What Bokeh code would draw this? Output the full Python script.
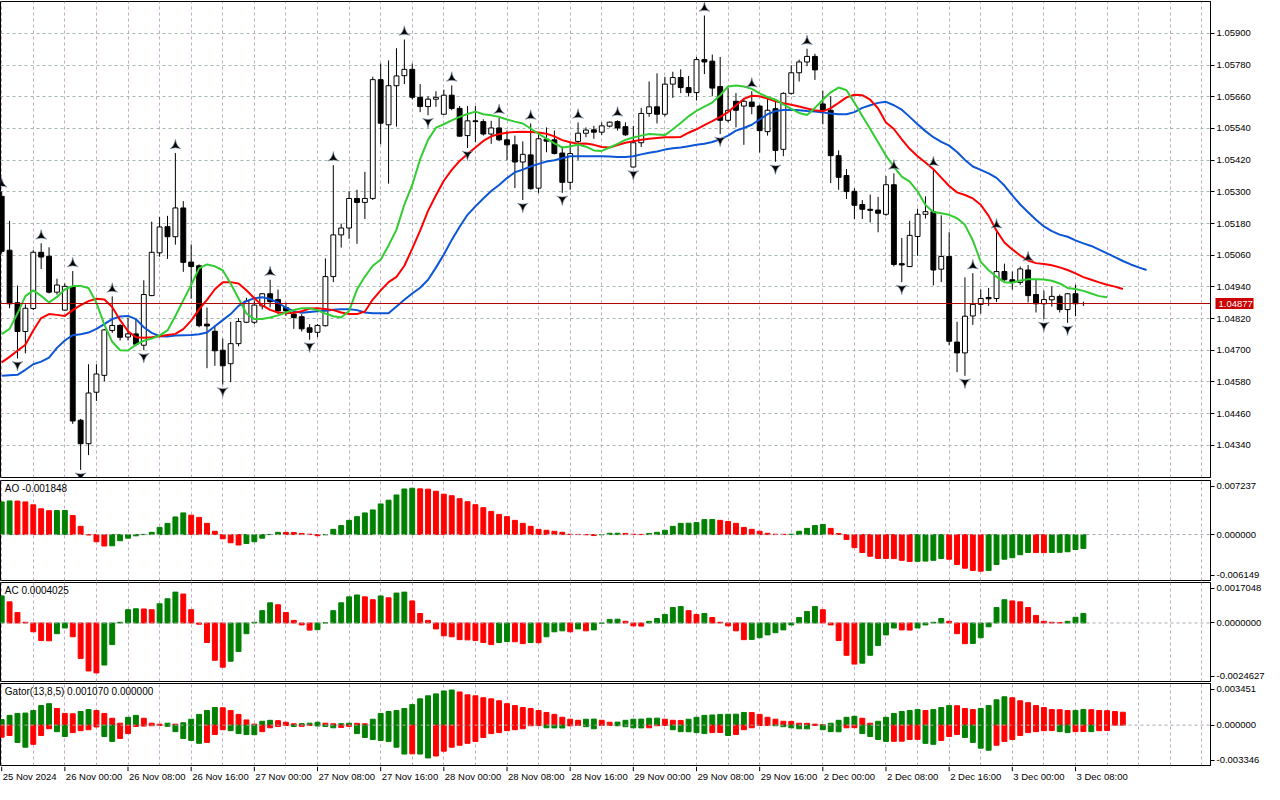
import numpy as np
from bokeh.plotting import figure
from bokeh.layouts import column
from bokeh.models import Range1d, FixedTicker, PrintfTickFormatter, Span, Label, Grid, LinearAxis
from bokeh.embed import file_html
from bokeh.resources import INLINE
from bokeh.core.properties import value

# ---------------- data (EURUSD H1, 25 Nov 16:00 .. 3 Dec 09:00) ----------------
opens = [1.05283, 1.05079, 1.04880, 1.04771, 1.04858, 1.05071, 1.05056, 1.04920, 1.04852, 1.04941,
         1.04435, 1.04346, 1.04541, 1.04605, 1.04775, 1.04794, 1.04750, 1.04762, 1.04719, 1.04907,
         1.05069, 1.05168, 1.05130, 1.05239, 1.05034, 1.05020, 1.04799, 1.04772, 1.04700, 1.04649,
         1.04725, 1.04806, 1.04806, 1.04868, 1.04914, 1.04892, 1.04862, 1.04837, 1.04827, 1.04785,
         1.04768, 1.04793, 1.04979, 1.05137, 1.05163, 1.05275, 1.05260, 1.05275, 1.05725, 1.05554,
         1.05702, 1.05740, 1.05764, 1.05658, 1.05623, 1.05651, 1.05594, 1.05666, 1.05616, 1.05513,
         1.05569, 1.05566, 1.05519, 1.05542, 1.05497, 1.05478, 1.05413, 1.05440, 1.05314, 1.05499,
         1.05497, 1.05447, 1.05336, 1.05491, 1.05522, 1.05535, 1.05526, 1.05549, 1.05566, 1.05547,
         1.05394, 1.05486, 1.05597, 1.05622, 1.05594, 1.05708, 1.05733, 1.05695, 1.05676, 1.05801,
         1.05795, 1.05699, 1.05571, 1.05643, 1.05625, 1.05640, 1.05625, 1.05528, 1.05615, 1.05461,
         1.05673, 1.05751, 1.05792, 1.05813, 1.05633, 1.05609, 1.05437, 1.05362, 1.05302, 1.05252,
         1.05234, 1.05231, 1.05215, 1.05327, 1.05028, 1.05017, 1.05131, 1.05215, 1.05225, 1.05007,
         1.05055, 1.04731, 1.04690, 1.04830, 1.04874, 1.04900, 1.04896, 1.04998, 1.04967, 1.04957,
         1.05004, 1.04911, 1.04876, 1.04891, 1.04904, 1.04854, 1.04914, 1.04877]
highs = [1.05302, 1.05190, 1.04945, 1.04874, 1.05079, 1.05105, 1.05090, 1.04971, 1.04953, 1.05000,
         1.04440, 1.04647, 1.04647, 1.04781, 1.04904, 1.04799, 1.04824, 1.04821, 1.04965, 1.05187,
         1.05205, 1.05209, 1.05447, 1.05265, 1.05101, 1.05025, 1.04862, 1.04793, 1.04744, 1.04807,
         1.04822, 1.04899, 1.04889, 1.04916, 1.04967, 1.04930, 1.04880, 1.04849, 1.04837, 1.04799,
         1.04799, 1.05048, 1.05401, 1.05180, 1.05302, 1.05308, 1.05376, 1.05736, 1.05786, 1.05798,
         1.05844, 1.05877, 1.05786, 1.05708, 1.05662, 1.05681, 1.05687, 1.05703, 1.05625, 1.05625,
         1.05625, 1.05575, 1.05569, 1.05581, 1.05532, 1.05513, 1.05491, 1.05559, 1.05519, 1.05544,
         1.05532, 1.05472, 1.05488, 1.05563, 1.05544, 1.05550, 1.05563, 1.05566, 1.05571, 1.05563,
         1.05550, 1.05618, 1.05718, 1.05749, 1.05736, 1.05755, 1.05764, 1.05739, 1.05811, 1.05968,
         1.05820, 1.05811, 1.05693, 1.05674, 1.05656, 1.05681, 1.05630, 1.05658, 1.05650, 1.05677,
         1.05780, 1.05801, 1.05842, 1.05823, 1.05683, 1.05662, 1.05457, 1.05386, 1.05314, 1.05269,
         1.05290, 1.05281, 1.05360, 1.05370, 1.05125, 1.05190, 1.05236, 1.05283, 1.05383, 1.05211,
         1.05147, 1.04808, 1.04976, 1.04992, 1.04930, 1.04936, 1.05147, 1.05028, 1.04998, 1.05017,
         1.05023, 1.04967, 1.04926, 1.04941, 1.04911, 1.04917, 1.04948, 1.04884]
lows = [1.05066, 1.04859, 1.04669, 1.04688, 1.04852, 1.05008, 1.04915, 1.04911, 1.04849, 1.04421,
        1.04247, 1.04303, 1.04508, 1.04582, 1.04766, 1.04737, 1.04737, 1.04715, 1.04700, 1.04905,
        1.05054, 1.05046, 1.05100, 1.04997, 1.04895, 1.04787, 1.04632, 1.04641, 1.04570, 1.04579,
        1.04715, 1.04803, 1.04799, 1.04855, 1.04862, 1.04837, 1.04830, 1.04781, 1.04771, 1.04740,
        1.04750, 1.04790, 1.04958, 1.05089, 1.05122, 1.05103, 1.05197, 1.05269, 1.05480, 1.05331,
        1.05547, 1.05708, 1.05650, 1.05602, 1.05590, 1.05622, 1.05592, 1.05609, 1.05509, 1.05466,
        1.05488, 1.05513, 1.05482, 1.05492, 1.05420, 1.05314, 1.05269, 1.05308, 1.05296, 1.05450,
        1.05442, 1.05296, 1.05308, 1.05420, 1.05507, 1.05501, 1.05515, 1.05544, 1.05532, 1.05512,
        1.05392, 1.05470, 1.05584, 1.05559, 1.05586, 1.05656, 1.05674, 1.05661, 1.05646, 1.05746,
        1.05662, 1.05519, 1.05563, 1.05544, 1.05478, 1.05594, 1.05449, 1.05513, 1.05414, 1.05435,
        1.05668, 1.05718, 1.05776, 1.05724, 1.05556, 1.05333, 1.05308, 1.05273, 1.05197, 1.05197,
        1.05184, 1.05147, 1.05209, 1.05017, 1.04958, 1.05015, 1.05058, 1.05199, 1.04946, 1.04958,
        1.04719, 1.04617, 1.04603, 1.04796, 1.04839, 1.04868, 1.04883, 1.04963, 1.04930, 1.04948,
        1.04881, 1.04843, 1.04818, 1.04865, 1.04843, 1.04804, 1.04829, 1.04868]
closes = [1.05075, 1.04876, 1.04771, 1.04859, 1.05071, 1.05053, 1.04920, 1.04947, 1.04942, 1.04432,
          1.04346, 1.04538, 1.04610, 1.04777, 1.04794, 1.04749, 1.04762, 1.04723, 1.04911, 1.05071,
          1.05167, 1.05130, 1.05239, 1.05033, 1.05017, 1.04793, 1.04792, 1.04698, 1.04641, 1.04725,
          1.04809, 1.04886, 1.04871, 1.04914, 1.04884, 1.04849, 1.04849, 1.04824, 1.04781, 1.04768,
          1.04794, 1.04979, 1.05137, 1.05163, 1.05275, 1.05260, 1.05275, 1.05725, 1.05560, 1.05702,
          1.05739, 1.05764, 1.05658, 1.05623, 1.05651, 1.05658, 1.05666, 1.05616, 1.05511, 1.05569,
          1.05566, 1.05519, 1.05542, 1.05497, 1.05478, 1.05413, 1.05442, 1.05312, 1.05501, 1.05492,
          1.05445, 1.05336, 1.05445, 1.05522, 1.05534, 1.05526, 1.05550, 1.05564, 1.05542, 1.05516,
          1.05486, 1.05597, 1.05622, 1.05594, 1.05708, 1.05733, 1.05695, 1.05676, 1.05801, 1.05792,
          1.05693, 1.05571, 1.05609, 1.05609, 1.05643, 1.05623, 1.05532, 1.05609, 1.05457, 1.05673,
          1.05751, 1.05792, 1.05813, 1.05762, 1.05609, 1.05437, 1.05355, 1.05301, 1.05249, 1.05234,
          1.05230, 1.05219, 1.05327, 1.05025, 1.05023, 1.05135, 1.05215, 1.05225, 1.05004, 1.05055,
          1.04734, 1.04690, 1.04829, 1.04874, 1.04896, 1.04895, 1.04998, 1.04967, 1.04957, 1.05008,
          1.04907, 1.04876, 1.04892, 1.04904, 1.04854, 1.04914, 1.04876, 1.04877]

# Alligator (13,8,5) lines as drawn (already shifted forward by 8, 5, 3 bars)
jaw = [1.04603, 1.04605, 1.04607, 1.04626, 1.04647, 1.04657, 1.04672, 1.04709, 1.04737, 1.04757,
       1.04761, 1.04767, 1.04781, 1.04799, 1.04818, 1.04828, 1.04830, 1.04818, 1.04787, 1.04766,
       1.04753, 1.04752, 1.04756, 1.04757, 1.04758, 1.04761, 1.04767, 1.04791, 1.04814, 1.04837,
       1.04868, 1.04886, 1.04897, 1.04901, 1.04894, 1.04880, 1.04861, 1.04848, 1.04842, 1.04845,
       1.04848, 1.04850, 1.04853, 1.04855, 1.04855, 1.04852, 1.04843, 1.04840, 1.04840, 1.04840,
       1.04866, 1.04891, 1.04915, 1.04937, 1.04967, 1.05013, 1.05063, 1.05118, 1.05168, 1.05213,
       1.05245, 1.05275, 1.05303, 1.05326, 1.05352, 1.05374, 1.05384, 1.05396, 1.05406, 1.05415,
       1.05420, 1.05427, 1.05435, 1.05435, 1.05435, 1.05435, 1.05435, 1.05434, 1.05432, 1.05432,
       1.05435, 1.05442, 1.05448, 1.05453, 1.05460, 1.05465, 1.05468, 1.05473, 1.05478, 1.05482,
       1.05489, 1.05499, 1.05513, 1.05532, 1.05542, 1.05554, 1.05574, 1.05594, 1.05606, 1.05610,
       1.05611, 1.05609, 1.05606, 1.05604, 1.05601, 1.05597, 1.05594, 1.05594, 1.05602, 1.05618,
       1.05628, 1.05637, 1.05641, 1.05628, 1.05611, 1.05584, 1.05556, 1.05530, 1.05507, 1.05489,
       1.05475, 1.05451, 1.05421, 1.05396, 1.05383, 1.05370, 1.05353, 1.05324, 1.05287, 1.05252,
       1.05223, 1.05194, 1.05169, 1.05151, 1.05138, 1.05130, 1.05116, 1.05105, 1.05095, 1.05081,
       1.05067, 1.05053, 1.05038, 1.05025, 1.05014, 1.05004]
teeth = [1.04654, 1.04675, 1.04698, 1.04721, 1.04775, 1.04822, 1.04837, 1.04834, 1.04830, 1.04852,
         1.04871, 1.04886, 1.04895, 1.04892, 1.04864, 1.04814, 1.04772, 1.04749, 1.04747, 1.04749,
         1.04753, 1.04758, 1.04762, 1.04780, 1.04812, 1.04855, 1.04891, 1.04931, 1.04958, 1.04958,
         1.04953, 1.04927, 1.04897, 1.04870, 1.04853, 1.04843, 1.04840, 1.04842, 1.04848, 1.04858,
         1.04859, 1.04856, 1.04852, 1.04843, 1.04837, 1.04837, 1.04847, 1.04892, 1.04927, 1.04958,
         1.04978, 1.05020, 1.05085, 1.05153, 1.05228, 1.05287, 1.05342, 1.05383, 1.05417, 1.05443,
         1.05468, 1.05493, 1.05510, 1.05519, 1.05524, 1.05527, 1.05528, 1.05527, 1.05525, 1.05520,
         1.05510, 1.05496, 1.05488, 1.05482, 1.05483, 1.05478, 1.05470, 1.05468, 1.05477, 1.05486,
         1.05492, 1.05497, 1.05501, 1.05504, 1.05507, 1.05507, 1.05508, 1.05524, 1.05537, 1.05553,
         1.05568, 1.05584, 1.05602, 1.05628, 1.05652, 1.05664, 1.05662, 1.05653, 1.05643, 1.05636,
         1.05630, 1.05623, 1.05616, 1.05609, 1.05605, 1.05617, 1.05637, 1.05658, 1.05668, 1.05666,
         1.05649, 1.05616, 1.05563, 1.05538, 1.05499, 1.05463, 1.05435, 1.05411, 1.05386, 1.05354,
         1.05322, 1.05298, 1.05288, 1.05275, 1.05251, 1.05209, 1.05153, 1.05108, 1.05082, 1.05059,
         1.05040, 1.05030, 1.05027, 1.05022, 1.05014, 1.05004, 1.04991, 1.04977, 1.04967, 1.04957,
         1.04948, 1.04941, 1.04932]
lips = [1.04761, 1.04781, 1.04839, 1.04905, 1.04927, 1.04906, 1.04881, 1.04902, 1.04930, 1.04943,
        1.04943, 1.04936, 1.04880, 1.04797, 1.04732, 1.04700, 1.04699, 1.04721, 1.04736, 1.04744,
        1.04756, 1.04775, 1.04830, 1.04889, 1.04947, 1.05010, 1.05025, 1.05018, 1.05003, 1.04953,
        1.04896, 1.04839, 1.04818, 1.04818, 1.04824, 1.04832, 1.04843, 1.04853, 1.04859, 1.04859,
        1.04852, 1.04839, 1.04829, 1.04824, 1.04849, 1.04930, 1.04979, 1.05020, 1.05043, 1.05097,
        1.05157, 1.05252, 1.05326, 1.05424, 1.05497, 1.05543, 1.05556, 1.05571, 1.05584, 1.05595,
        1.05604, 1.05594, 1.05590, 1.05584, 1.05574, 1.05566, 1.05559, 1.05540, 1.05520, 1.05502,
        1.05484, 1.05468, 1.05472, 1.05479, 1.05471, 1.05457, 1.05455, 1.05468, 1.05482, 1.05497,
        1.05506, 1.05513, 1.05519, 1.05517, 1.05515, 1.05537, 1.05561, 1.05586, 1.05607, 1.05623,
        1.05638, 1.05666, 1.05699, 1.05703, 1.05699, 1.05690, 1.05673, 1.05659, 1.05649, 1.05631,
        1.05614, 1.05599, 1.05591, 1.05618, 1.05649, 1.05677, 1.05695, 1.05685, 1.05638, 1.05587,
        1.05538, 1.05488, 1.05437, 1.05395, 1.05358, 1.05339, 1.05302, 1.05250, 1.05224, 1.05219,
        1.05213, 1.05200, 1.05175, 1.05116, 1.05035, 1.05003, 1.04978, 1.04958, 1.04956, 1.04964,
        1.04969, 1.04969, 1.04968, 1.04963, 1.04953, 1.04936, 1.04932, 1.04925, 1.04915, 1.04905,
        1.04901]

# Fractal bars
fractal_up = [0, 5, 9, 14, 22, 34, 42, 51, 57, 63, 67, 73, 78, 89, 95, 102, 113, 118, 123, 126, 130]
fractal_down = [2, 10, 18, 28, 39, 54, 59, 66, 71, 80, 91, 98, 114, 122, 132, 135]

# Awesome Oscillator
ao = [0.00437, 0.00450, 0.00448, 0.00437, 0.00398, 0.00345, 0.00320, 0.00321, 0.00322, 0.00254,
      0.00110, -0.00005, -0.00096, -0.00153, -0.00150, -0.00083, -0.00048, -0.00017, 0.00002, 0.00030,
      0.00096, 0.00150, 0.00236, 0.00290, 0.00260, 0.00230, 0.00150, 0.00044, -0.00057, -0.00110,
      -0.00140, -0.00120, -0.00096, -0.00048, 0.00002, 0.00030, 0.00029, 0.00028, 0.00015, 0.00005,
      -0.00015, -0.00003, 0.00070, 0.00120, 0.00190, 0.00240, 0.00290, 0.00330, 0.00410, 0.00460,
      0.00530, 0.00610, 0.00620, 0.00612, 0.00608, 0.00580, 0.00540, 0.00520, 0.00480, 0.00440,
      0.00400, 0.00360, 0.00310, 0.00270, 0.00240, 0.00190, 0.00150, 0.00110, 0.00070, 0.00057,
      0.00044, 0.00030, 0.00004, 0.00002, -0.00002, -0.00013, -0.00002, 0.00017, 0.00018, 0.00015,
      0.00004, 0.00002, 0.00015, 0.00030, 0.00057, 0.00110, 0.00150, 0.00152, 0.00160, 0.00200,
      0.00202, 0.00190, 0.00175, 0.00150, 0.00096, 0.00070, 0.00044, 0.00017, 0.00004, 0.00003,
      0.00005, 0.00044, 0.00083, 0.00120, 0.00135, 0.00083, 0.00013, -0.00066, -0.00175, -0.00240,
      -0.00290, -0.00320, -0.00321, -0.00322, -0.00345, -0.00360, -0.00358, -0.00355, -0.00345, -0.00320,
      -0.00330, -0.00400, -0.00450, -0.00480, -0.00490, -0.00480, -0.00400, -0.00330, -0.00310, -0.00270,
      -0.00240, -0.00241, -0.00242, -0.00240, -0.00238, -0.00230, -0.00200, -0.001848]
ao_before = 0.00420

# Accelerator Oscillator
ac = [0.00114, 0.00089, 0.00044, 0.00003, -0.00037, -0.00074, -0.00075, -0.00045, -0.00021, -0.00058,
      -0.00149, -0.00202, -0.00210, -0.00177, -0.00091, 0.00003, 0.00056, 0.00060, 0.00059, 0.00056,
      0.00081, 0.00102, 0.00130, 0.00122, 0.00056, -0.00005, -0.00082, -0.00157, -0.00186, -0.00161,
      -0.00120, -0.00045, 0.00003, 0.00052, 0.00085, 0.00077, 0.00044, 0.00011, -0.00008, -0.00030,
      -0.00028, 0.00001, 0.00052, 0.00085, 0.00110, 0.00118, 0.00110, 0.00098, 0.00114, 0.00106,
      0.00126, 0.00130, 0.00093, 0.00040, 0.00011, -0.00025, -0.00054, -0.00058, -0.00070, -0.00071,
      -0.00074, -0.00082, -0.00091, -0.00082, -0.00078, -0.00079, -0.00087, -0.00082, -0.00083, -0.00058,
      -0.00037, -0.00033, -0.00037, -0.00025, -0.00033, -0.00029, -0.00001, 0.00015, 0.00016, 0.00007,
      -0.00012, -0.00013, 0.00007, 0.00019, 0.00036, 0.00065, 0.00069, 0.00052, 0.00036, 0.00040,
      0.00023, 0.00003, -0.00012, -0.00033, -0.00070, -0.00069, -0.00062, -0.00050, -0.00041, -0.00029,
      -0.00008, 0.00023, 0.00048, 0.00069, 0.00056, -0.00008, -0.00074, -0.00136, -0.00173, -0.00169,
      -0.00136, -0.00095, -0.00050, -0.00021, -0.00029, -0.00030, -0.00021, -0.00008, 0.00003, 0.00019,
      0.00007, -0.00045, -0.00087, -0.00086, -0.00062, -0.00016, 0.00065, 0.00098, 0.00093, 0.00089,
      0.00065, 0.00032, 0.00007, 0.00003, 0.00002, 0.00007, 0.00024, 0.0004025]
ac_before = 0.00090

# Gator oscillator (upper = |jaw-teeth|, lower = |teeth-lips|)
gator_up = [0.00046, 0.00081, 0.00097, 0.00100, 0.00121, 0.00162, 0.00178, 0.00138, 0.00097, 0.00094,
            0.00113, 0.00129, 0.00121, 0.00097, 0.00057, 0.00016, 0.00065, 0.00081, 0.00057, 0.00016,
            0.00008, 0.00016, 0.00008, 0.00020, 0.00049, 0.00089, 0.00121, 0.00146, 0.00144, 0.00121,
            0.00089, 0.00043, 0.00008, 0.00032, 0.00040, 0.00037, 0.00024, 0.00011, 0.00012, 0.00016,
            0.00024, 0.00016, 0.00011, 0.00012, 0.00016, 0.00015, 0.00011, 0.00049, 0.00097, 0.00113,
            0.00121, 0.00138, 0.00170, 0.00218, 0.00243, 0.00259, 0.00283, 0.00291, 0.00275, 0.00251,
            0.00243, 0.00227, 0.00218, 0.00202, 0.00178, 0.00162, 0.00146, 0.00138, 0.00121, 0.00105,
            0.00089, 0.00065, 0.00049, 0.00040, 0.00049, 0.00050, 0.00040, 0.00024, 0.00025, 0.00040,
            0.00049, 0.00050, 0.00057, 0.00058, 0.00049, 0.00040, 0.00039, 0.00049, 0.00065, 0.00081,
            0.00084, 0.00089, 0.00090, 0.00091, 0.00105, 0.00104, 0.00089, 0.00065, 0.00049, 0.00032,
            0.00031, 0.00016, 0.00015, 0.00008, 0.00003, 0.00016, 0.00040, 0.00065, 0.00073, 0.00057,
            0.00016, 0.00032, 0.00065, 0.00097, 0.00113, 0.00121, 0.00129, 0.00121, 0.00129, 0.00146,
            0.00162, 0.00161, 0.00138, 0.00129, 0.00138, 0.00162, 0.00210, 0.00235, 0.00227, 0.00202,
            0.00186, 0.00162, 0.00146, 0.00129, 0.00128, 0.00121, 0.00122, 0.00129, 0.00128, 0.00121,
            0.00120, 0.00113, 0.00107]
gator_low = [0.00100, 0.00086, 0.00143, 0.00183, 0.00159, 0.00086, 0.00030, 0.00054, 0.00094, 0.00062,
             0.00046, 0.00038, 0.00015, 0.00094, 0.00135, 0.00111, 0.00070, 0.00011, 0.00008, 0.00005,
             0.00003, 0.00010, 0.00054, 0.00111, 0.00127, 0.00151, 0.00143, 0.00078, 0.00038, 0.00046,
             0.00070, 0.00078, 0.00079, 0.00054, 0.00022, 0.00011, 0.00003, 0.00011, 0.00010, 0.00001,
             0.00007, 0.00011, 0.00022, 0.00019, 0.00010, 0.00070, 0.00102, 0.00119, 0.00127, 0.00135,
             0.00183, 0.00240, 0.00238, 0.00240, 0.00272, 0.00256, 0.00216, 0.00183, 0.00167, 0.00151,
             0.00135, 0.00102, 0.00070, 0.00062, 0.00046, 0.00038, 0.00030, 0.00005, 0.00004, 0.00022,
             0.00023, 0.00024, 0.00006, 0.00003, 0.00013, 0.00030, 0.00003, 0.00001, 0.00005, 0.00013,
             0.00022, 0.00023, 0.00022, 0.00005, 0.00003, 0.00038, 0.00054, 0.00055, 0.00062, 0.00070,
             0.00062, 0.00061, 0.00086, 0.00078, 0.00038, 0.00022, 0.00003, 0.00002, 0.00005, 0.00013,
             0.00022, 0.00030, 0.00031, 0.00003, 0.00038, 0.00054, 0.00055, 0.00022, 0.00021, 0.00070,
             0.00094, 0.00119, 0.00135, 0.00134, 0.00133, 0.00119, 0.00118, 0.00151, 0.00159, 0.00127,
             0.00094, 0.00078, 0.00102, 0.00143, 0.00191, 0.00208, 0.00167, 0.00135, 0.00119, 0.00086,
             0.00062, 0.00054, 0.00046, 0.00045, 0.00054, 0.00062, 0.00054, 0.00053, 0.00054, 0.00046,
             0.00045]
gator_up_before = 0.00040
gator_low_before = 0.00110

price_ticks = [1.04340, 1.04460, 1.04580, 1.04700, 1.04820, 1.04940, 1.05060,
               1.05180, 1.05300, 1.05420, 1.05540, 1.05660, 1.05780, 1.05900]
last_price = 1.04877

time_tick_bars = [0, 8, 16, 24, 32, 40, 48, 56, 64, 72, 80, 88, 96, 104, 112, 120, 128, 136]
time_tick_labels = ["25 Nov 2024", "26 Nov 00:00", "26 Nov 08:00", "26 Nov 16:00", "27 Nov 00:00",
                    "27 Nov 08:00", "27 Nov 16:00", "28 Nov 00:00", "28 Nov 08:00", "28 Nov 16:00",
                    "29 Nov 00:00", "29 Nov 08:00", "29 Nov 16:00", "2 Dec 00:00", "2 Dec 08:00",
                    "2 Dec 16:00", "3 Dec 00:00", "3 Dec 08:00"]

ao_range = (-0.006149, 0.007237)
ac_range = (-0.0024627, 0.0017048)
gator_range = (-0.003346, 0.003451)

# ---------------- styling ----------------
FONT = "Liberation Sans"
GREEN = "#008000"
RED = "#ff0000"
VGRID = "#c6a9c6"
HGRID = "#a6b8ae"
FW = 1210
X0, X1 = -0.15, 153.1
xr = Range1d(X0, X1)
vgrid_ticks = list(range(0, 154, 4))


def colors_by_change(vals, before):
    v = np.asarray(vals, dtype=float)
    d = np.diff(np.concatenate([[before], v]))
    return [GREEN if x > 0 else RED for x in d]


def make_fig(fh, y0, y1, top, bottom, right=0):
    p = figure(frame_width=FW, frame_height=fh, x_range=xr, y_range=Range1d(y0, y1),
               output_backend="svg", toolbar_location=None,
               x_axis_location=None, y_axis_location="right",
               min_border_left=0, min_border_right=right,
               min_border_top=top, min_border_bottom=bottom)
    p.grid.visible = False
    p.outline_line_color = "black"
    p.outline_line_width = 1
    p.outline_line_alpha = 1.0
    p.background_fill_color = "white"
    p.border_fill_color = "white"
    p.add_layout(Grid(dimension=0, ticker=FixedTicker(ticks=vgrid_ticks),
                      grid_line_color=VGRID, grid_line_dash="3 3", grid_line_width=1))
    ax = p.yaxis[0]
    ax.axis_line_color = "black"
    ax.major_tick_out = 4
    ax.major_tick_in = 0
    ax.minor_tick_out = 0
    ax.minor_tick_in = 0
    ax.major_tick_line_color = "black"
    ax.major_label_standoff = 2
    ax.major_label_text_font = FONT
    ax.major_label_text_font_size = "9.5px"
    ax.major_label_text_color = "black"
    return p


# ---------------- main price panel ----------------
o = np.asarray(opens); h = np.asarray(highs); l = np.asarray(lows); c = np.asarray(closes)
idx = np.arange(len(o))
bull = c >= o
bear = ~bull

main = make_fig(476, 1.04218, 1.06021, top=1, bottom=2, right=0)
main.add_layout(Grid(dimension=1, ticker=FixedTicker(ticks=price_ticks),
                     grid_line_color=HGRID, grid_line_dash="3 3", grid_line_width=1))
main.yaxis[0].ticker = FixedTicker(ticks=price_ticks)
main.yaxis[0].formatter = PrintfTickFormatter(format="%.5f")

main.add_layout(Span(location=last_price, dimension="width", line_color="#b00000", line_width=1))

main.segment(x0=idx, y0=l, x1=idx, y1=h, line_color="black", line_width=1)
main.vbar(x=idx[bull], bottom=o[bull], top=c[bull], width=0.62,
          fill_color="white", line_color="black", line_width=1)
main.vbar(x=idx[bear], bottom=c[bear], top=o[bear], width=0.62,
          fill_color="black", line_color="black", line_width=1)

main.line(np.arange(len(jaw)), jaw, line_color="#0b55d6", line_width=2)
main.line(np.arange(len(teeth)), teeth, line_color="#ff0000", line_width=2)
main.line(np.arange(len(lips)), lips, line_color="#32cd32", line_width=2)

fu = np.asarray(fractal_up); fd = np.asarray(fractal_down)
main.scatter(fu, h[fu] + 0.00028, marker="triangle_pin", size=11,
             fill_color="black", line_color="#8090a8", line_width=0.6)
main.scatter(fd, l[fd] - 0.00024, marker="triangle_pin", size=11, angle=np.pi,
             fill_color="black", line_color="#8090a8", line_width=0.6)

# current-price tag on the price scale: a second right axis with one tick,
# its (thick, inward) tick mark forms the red box and its label sits on it
tag_axis = LinearAxis(ticker=FixedTicker(ticks=[last_price]),
                      formatter=PrintfTickFormatter(format="%.5f"),
                      axis_line_color=None,
                      major_tick_in=38, major_tick_out=0,
                      major_tick_line_color="#cc0000", major_tick_line_width=11,
                      major_tick_line_cap="butt",
                      minor_tick_in=0, minor_tick_out=0,
                      major_label_standoff=-35,
                      major_label_text_color="white", major_label_text_font=FONT,
                      major_label_text_font_size="9.5px")
main.add_layout(tag_axis, "right")


# ---------------- indicator panels ----------------
def indicator(fh, rng, labels, title, top, bottom):
    lo, hi = rng
    p = make_fig(fh, lo, hi, top=top, bottom=bottom)
    inset = 5.5 * (hi - lo) / fh
    t_top = hi - inset
    t_bot = lo + inset
    ax = p.yaxis[0]
    ax.ticker = FixedTicker(ticks=[t_bot, 0.0, t_top])
    ax.major_label_overrides = {t_bot: labels[0], 0.0: labels[1], t_top: labels[2]}
    p.add_layout(Span(location=0.0, dimension="width", line_color="#a8a8b4",
                      line_dash="3 3", line_width=1))
    p.add_layout(Label(x=0.4, y=hi, y_offset=-2, text=title, text_font=FONT,
                       text_font_size="10px", text_baseline="top", text_align="left",
                       text_color="black"))
    return p


aop = indicator(100, ao_range, ["-0.006149", "0.000000", "0.007237"], "AO -0.001848", 1, 1)
aop.vbar(x=np.arange(len(ao)), top=ao, bottom=0, width=0.62,
         color=colors_by_change(ao, ao_before))

acp = indicator(99, ac_range, ["-0.0024627", "0.0000000", "0.0017048"], "AC 0.0004025", 1, 1)
acp.vbar(x=np.arange(len(ac)), top=ac, bottom=0, width=0.62,
         color=colors_by_change(ac, ac_before))

gp = indicator(82, gator_range, ["-0.003346", "0.000000", "0.003451"],
               "Gator(13,8,5) 0.001070 0.000000", 1, 1)
gp.vbar(x=np.arange(len(gator_up)), top=gator_up, bottom=0, width=0.62,
        color=colors_by_change(gator_up, gator_up_before))
gp.vbar(x=np.arange(len(gator_low)), top=0, bottom=-np.asarray(gator_low), width=0.62,
        color=colors_by_change(gator_low, gator_low_before))

# ---------------- time scale strip ----------------
ts = figure(frame_width=FW, frame_height=18, x_range=xr, y_range=Range1d(0, 1),
            output_backend="svg", toolbar_location=None,
            x_axis_location=None, y_axis_location=None,
            min_border_left=0, min_border_right=0, min_border_top=0, min_border_bottom=0)
ts.grid.visible = False
ts.outline_line_color = None
ts.background_fill_color = "white"
ts.border_fill_color = "white"
ts.segment(x0=time_tick_bars, y0=1.0, x1=time_tick_bars, y1=0.74, line_color="black", line_width=1)
ts.text(x=time_tick_bars, y=[0.42] * len(time_tick_bars), text=time_tick_labels,
        text_font=value(FONT), text_font_size=value("9.5px"), text_align="left",
        text_baseline="middle", text_color="black", x_offset=1)

layout = column(main, aop, acp, gp, ts, spacing=0)
open("out.html", "w").write(file_html(layout, INLINE))
